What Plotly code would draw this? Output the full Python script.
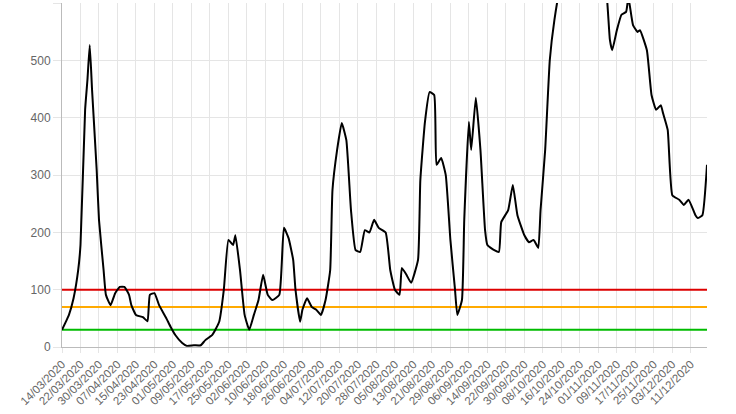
import pandas as pd
import plotly.graph_objects as go

start = pd.Timestamp("2020-03-14")
day_offsets = [0,2,3,5,7,8,10,11,12,13,15,16,18,19,21,23,25,27,29,30,32,35,37,38,40,42,45,47,49,52,54,57,60,62,65,68,70,72,74,75,77,79,81,83,85,87,89,91,94,96,98,100,101,103,104,106,108,110,112,114,116,117,119,121,123,125,127,129,131,133,135,137,140,142,144,146,147,149,151,154,155,157,159,161,162,164,166,168,170,171,173,174,176,177,179,181,183,184,187,189,190,193,195,197,200,202,204,206,207,209,211,213,216,220,225,230,235,237,238,240,242,244,245,247,249,250,253,255,257,259,260,262,264,267,269,271,274,275,277,279]
values = [30,47,56,85,134,178,414,466,527,449,309,222,134,91,73,94,105,105,91,73,56,52,45,91,94,73,51,35,21,7,2,3,3,12,21,44,100,187,178,195,134,56,30,56,82,126,91,82,91,208,190,152,100,44,65,85,70,65,56,82,134,274,344,391,361,239,169,166,204,200,222,208,200,134,100,91,138,126,112,152,291,393,445,440,318,330,300,187,100,56,82,222,393,344,435,344,204,178,169,166,218,239,283,230,195,183,187,173,239,344,501,571,640,700,720,690,640,536,518,553,580,585,610,562,550,553,518,440,414,422,408,379,265,257,248,257,230,225,230,318]
dates = [start + pd.Timedelta(days=d) for d in day_offsets]

tick_dates = pd.date_range("2020-03-14", "2020-12-11", freq="8D")
tick_labels = [d.strftime("%d/%m/%Y") for d in tick_dates]
end_date = start + pd.Timedelta(days=279)

thresholds = [(100, "#dd0000"), (70, "#ffaa00"), (30, "#00bb00")]

fig = go.Figure()
for val, col in thresholds:
    fig.add_trace(go.Scatter(x=[start, end_date], y=[val, val], mode="lines",
                             line=dict(color=col, width=2), hoverinfo="skip"))
fig.add_trace(go.Scatter(x=dates, y=values, mode="lines",
                         line=dict(color="black", width=2, shape="spline", smoothing=0.4)))

fig.update_layout(
    width=736, height=414, showlegend=False,
    paper_bgcolor="white", plot_bgcolor="white",
    margin=dict(l=62, r=29, t=3, b=67, autoexpand=False),
    font=dict(family="Arial, Liberation Sans", color="#666", size=12),
)
fig.update_xaxes(range=[start, end_date], tickvals=list(tick_dates), ticktext=tick_labels,
                 tickangle=-45, showgrid=True, gridcolor="#e5e5e5", showline=True,
                 linecolor="#bbb", ticks="outside", ticklen=5, tickcolor="#e5e5e5",
                 tickfont=dict(size=11.5), automargin=False)
fig.update_yaxes(range=[0, 600.5], tickvals=[0,100,200,300,400,500,600], showgrid=True,
                 gridcolor="#e5e5e5", zeroline=False, showline=True, linecolor="#bbb",
                 ticks="outside", ticklen=8, tickcolor="#e5e5e5", automargin=False)
fig.write_html("out.html", config={"displayModeBar": False},
               post_script="document.body.style.margin='0';")
